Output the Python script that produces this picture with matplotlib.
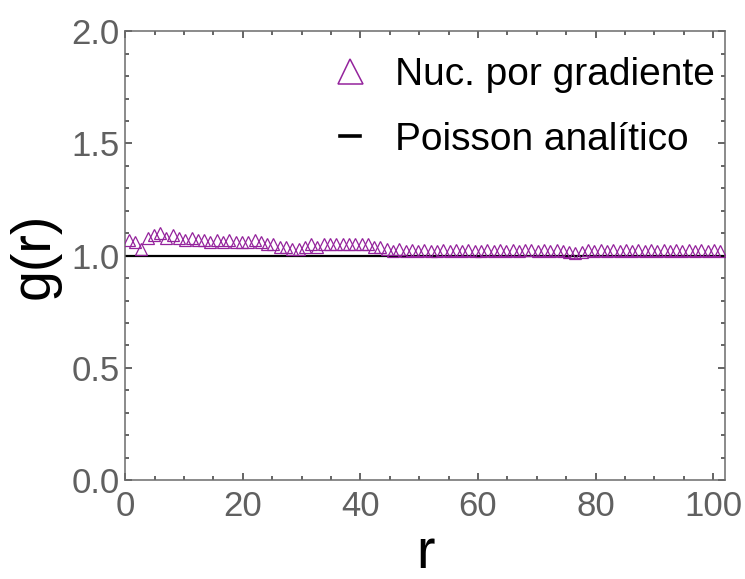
import numpy as np
import matplotlib
matplotlib.use("Agg")
import matplotlib.pyplot as plt
from matplotlib.lines import Line2D
from matplotlib.ticker import MultipleLocator

plt.rcParams['font.family'] = ['Liberation Sans', 'DejaVu Sans']

# pair-correlation estimate for gradient-driven nucleation
r_first, r_last = 0.6, 101.2
g_gradient = [
    1.07, 1.06, 1.03, 1.08, 1.09, 1.10, 1.08, 1.09, 1.08, 1.07,
    1.08, 1.07, 1.07, 1.06, 1.07, 1.06, 1.07, 1.06, 1.06, 1.06,
    1.07, 1.06, 1.05, 1.05, 1.04, 1.04, 1.03, 1.03, 1.04, 1.05,
    1.04, 1.05, 1.05, 1.05, 1.05, 1.05, 1.05, 1.05, 1.05, 1.04,
    1.04, 1.03, 1.02, 1.03, 1.02, 1.025, 1.02, 1.025, 1.02, 1.02,
    1.025, 1.02, 1.025, 1.02, 1.025, 1.02, 1.02, 1.025, 1.02, 1.025,
    1.02, 1.025, 1.02, 1.025, 1.025, 1.02, 1.025, 1.02, 1.025, 1.02,
    1.015, 1.01, 1.015, 1.025, 1.02, 1.025, 1.02, 1.025, 1.02, 1.025,
    1.02, 1.025, 1.02, 1.025, 1.02, 1.025, 1.02, 1.025, 1.02, 1.025,
    1.02, 1.025, 1.02, 1.025, 1.02,
]
r_vals = np.linspace(r_first, r_last, len(g_gradient))

# analytic Poisson reference
poisson_r = [0, 102]
poisson_g = [1.0, 1.0]

x_ticks = [0, 20, 40, 60, 80, 100]
y_ticks = [0.0, 0.5, 1.0, 1.5, 2.0]
y_ticklabels = ["0.0", "0.5", "1.0", "1.5", "2.0"]

purple = '#94239c'
axis_gray = '#6b6b6b'
label_gray = '#606060'

fig = plt.figure(figsize=(7.45, 5.79), dpi=100)
ax = fig.add_axes([0.168, 0.171, 0.805, 0.775])

ax.plot(poisson_r, poisson_g, color='black', lw=1.6, zorder=2)
ax.plot(r_vals, g_gradient, ls='none', marker='^', ms=8.5, mfc='none',
        mec=purple, mew=0.9, zorder=3)

ax.set_xlim(0, 102)
ax.set_ylim(0, 2.0)
ax.set_xticks(x_ticks)
ax.set_yticks(y_ticks)
ax.set_yticklabels(y_ticklabels)
ax.xaxis.set_minor_locator(MultipleLocator(5))
ax.yaxis.set_minor_locator(MultipleLocator(0.1))

for s in ax.spines.values():
    s.set_color(axis_gray)
    s.set_linewidth(1.1)

ax.tick_params(which='both', direction='in', top=True, right=True,
               color='#4a4a4a', width=1.2, labelsize=25,
               labelcolor=label_gray)
ax.tick_params(which='major', length=5, pad=7)
ax.tick_params(which='minor', length=2.8)
ax.tick_params(axis='y', pad=4)

ax.set_xlabel('r', fontsize=40, labelpad=4)
ax.set_ylabel('g(r)', fontsize=40, labelpad=8)

handles = [
    Line2D([], [], ls='none', marker='^', ms=18, mfc='none', mec=purple, mew=1.1),
    Line2D([], [], color='black', lw=2.6),
]
ax.legend(handles, ['Nuc. por gradiente', 'Poisson analítico'],
          loc='upper right', bbox_to_anchor=(1.022, 0.995), frameon=False,
          fontsize=28, handlelength=0.5, handletextpad=0.9,
          labelspacing=0.75, borderaxespad=0.2)

fig.savefig('out.png', dpi=100)
